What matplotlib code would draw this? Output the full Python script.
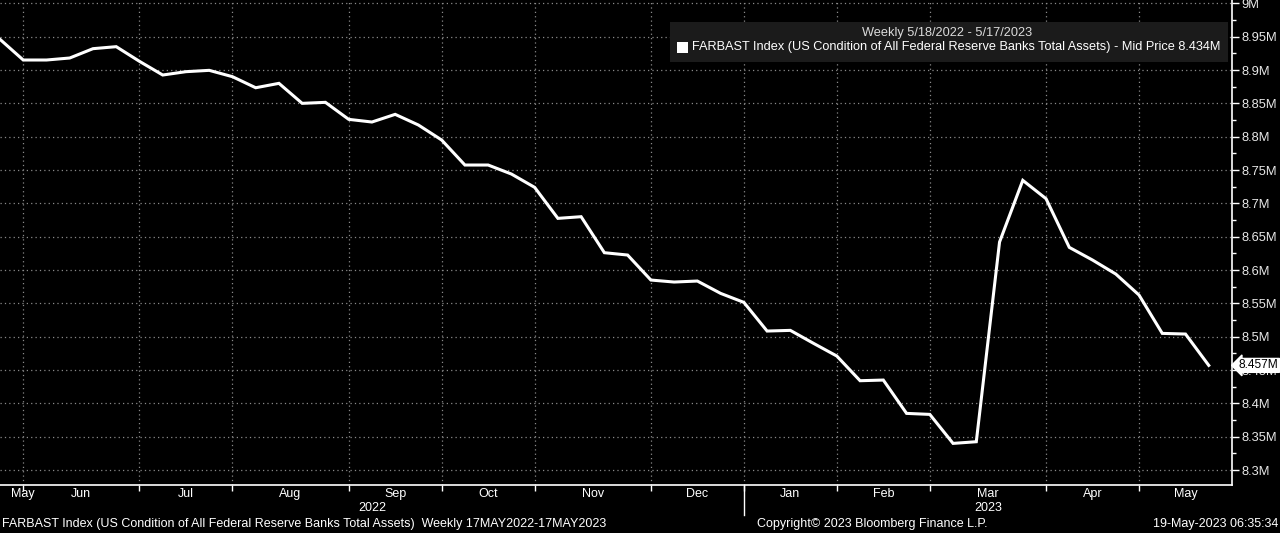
import matplotlib
matplotlib.use("Agg")
import matplotlib.pyplot as plt
import matplotlib.dates as mdates
import matplotlib.transforms as mtransforms
from matplotlib.ticker import FixedLocator, FuncFormatter
import pandas as pd

# weekly observations, 5/18/2022 - 5/17/2023 (values in millions, "M")
start_date = "2022-05-18"
end_date = "2023-05-17"
total_assets = [
    8.946, 8.915, 8.915, 8.918, 8.932, 8.935, 8.913, 8.8925, 8.8975, 8.8995,
    8.890, 8.8734, 8.880, 8.850, 8.8515, 8.826, 8.822, 8.8335, 8.8175, 8.795,
    8.7575, 8.7575, 8.744, 8.724, 8.6775, 8.680, 8.626, 8.6225, 8.585, 8.582,
    8.5835, 8.565, 8.5515, 8.5085, 8.5095, 8.490, 8.471, 8.434, 8.435, 8.385,
    8.3835, 8.340, 8.3425, 8.642, 8.7345, 8.707, 8.634, 8.615, 8.594, 8.5625,
    8.505, 8.504, 8.457,
]
y_ticks = [8.3, 8.35, 8.4, 8.45, 8.5, 8.55, 8.6, 8.65, 8.7, 8.75, 8.8, 8.85, 8.9, 8.95, 9.0]
last_label = "8.457M"
legend_title = "Weekly 5/18/2022 - 5/17/2023"
legend_text = ("FARBAST Index (US Condition of All Federal Reserve Banks Total Assets)"
               " - Mid Price 8.434M")
footer_left = ("FARBAST Index (US Condition of All Federal Reserve Banks Total Assets)"
               "  Weekly 17MAY2022-17MAY2023")
footer_mid = "Copyright\u00a9 2023 Bloomberg Finance L.P."
footer_right = "19-May-2023 06:35:34"

FONT = ["Liberation Sans", "DejaVu Sans"]
FS = 9.0
W, H = 1280, 533

dates = pd.date_range(start_date, end_date, freq="7D")
df = pd.DataFrame({"date": dates, "value": total_assets})

fig = plt.figure(figsize=(W / 100, H / 100), dpi=100, facecolor="black")
ax = fig.add_axes([0, 48 / H, 1232 / W, 485 / H], facecolor="black")

ax.plot(df["date"], df["value"], color="white", lw=2.2, zorder=3,
        solid_joinstyle="miter")

xmin = mdates.date2num(dates[0])
xmax = mdates.date2num(dates[-1] + pd.Timedelta(days=7))
ax.set_xlim(xmin, xmax)
ax.set_ylim(8.2776, 9.005)

# month separators: last weekly point of each complete month
months = df.groupby(df["date"].dt.to_period("M"))["date"].last()
grid_dates = [mdates.date2num(d) for d in months.iloc[:-1]]

ax.xaxis.set_major_locator(FixedLocator(grid_dates))
ax.xaxis.set_major_formatter(FuncFormatter(lambda v, p: ""))
ax.tick_params(axis="x", colors="white", length=4, width=1, direction="out")

ax.yaxis.tick_right()
ax.yaxis.set_major_locator(FixedLocator(y_ticks))
ax.yaxis.set_minor_locator(FixedLocator([v + 0.025 for v in y_ticks[:-1]]))
ax.yaxis.set_major_formatter(FuncFormatter(lambda v, p: f"{v:g}M"))
ax.tick_params(axis="y", which="major", colors="white", length=5, width=1, pad=2,
               labelsize=9.3)
ax.tick_params(axis="y", which="minor", colors="white", length=3, width=1)
for lab in ax.get_yticklabels():
    lab.set_family(FONT)
    lab.set_color("#e8e8e8")

ax.grid(True, color="#8a8a8a", lw=0.9, ls=(0, (1, 2.5)))
for side in ["left", "top"]:
    ax.spines[side].set_visible(False)
for side in ["right", "bottom"]:
    ax.spines[side].set_color("white")
    ax.spines[side].set_linewidth(1.2)

# month / year labels
trans = mtransforms.blended_transform_factory(ax.transData, ax.transAxes)
bounds = [xmin] + grid_dates + [xmax]
for i, per in enumerate(months.index):
    mid = (bounds[i] + bounds[i + 1]) / 2
    if i == 0:
        mid = max(mid, xmin + 7)
    ax.text(mid, -0.019, per.strftime("%b"), transform=trans, ha="center",
            va="center", color="white", fontsize=FS, family=FONT, clip_on=False)

year_end = [d for d, per in zip(grid_dates, months.index) if per.month == 12][0]
ax.plot([year_end, year_end], [0, -0.062], transform=trans, color="white",
        lw=1, clip_on=False)
for yr, a, b in [("2022", xmin, year_end), ("2023", year_end, xmax)]:
    ax.text((a + b) / 2, -0.048, yr, transform=trans, ha="center", va="center",
            color="white", fontsize=FS, family=FONT, clip_on=False)

# last value tag
ax.text(1.0055, total_assets[-1], last_label,
        transform=mtransforms.blended_transform_factory(ax.transAxes, ax.transData),
        ha="left", va="center", color="black", fontsize=8.6, family=FONT,
        zorder=10, clip_on=False,
        bbox=dict(boxstyle="larrow,pad=0.08", fc="white", ec="white"))

# legend box
fig.patches.append(plt.Rectangle((670 / W, 1 - 62 / H), 558 / W, 40 / H,
                                 transform=fig.transFigure, fc="#1b1b1b",
                                 ec="none", zorder=5))
fig.text(947 / W, 1 - 33 / H, legend_title, ha="center", va="center",
         color="#dcdcdc", fontsize=9.2, family=FONT, zorder=6)
fig.patches.append(plt.Rectangle((677 / W, 1 - 53 / H), 11 / W, 11 / H,
                                 transform=fig.transFigure, fc="white",
                                 ec="none", zorder=6))
fig.text(692 / W, 1 - 47 / H, legend_text, ha="left", va="center",
         color="white", fontsize=9.2, family=FONT, zorder=6)

# footer
fig.text(2 / W, 1 - 524 / H, footer_left, ha="left", va="center",
         color="white", fontsize=FS, family=FONT)
fig.text(757 / W, 1 - 524 / H, footer_mid, ha="left", va="center",
         color="white", fontsize=FS, family=FONT)
fig.text(1278 / W, 1 - 524 / H, footer_right, ha="right", va="center",
         color="white", fontsize=FS, family=FONT)

fig.savefig("out.png", dpi=100, facecolor="black")
